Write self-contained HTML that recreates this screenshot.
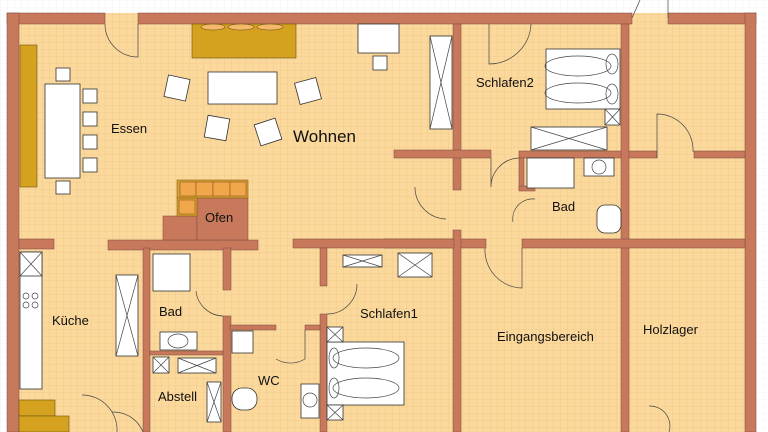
<!DOCTYPE html>
<html><head><meta charset="utf-8"><style>
html,body{margin:0;padding:0;background:#fff}
svg{display:block}
text{font-family:"Liberation Sans",sans-serif;fill:#111}
</style></head><body>
<svg width="768" height="432" viewBox="0 0 768 432" xmlns="http://www.w3.org/2000/svg">
<defs>
<pattern id="g" width="7" height="7" patternUnits="userSpaceOnUse">
<path d="M7 0H0V7" fill="none" stroke="#e9c27f" stroke-width="0.6"/>
</pattern>
<pattern id="gw" width="7" height="7" patternUnits="userSpaceOnUse">
<path d="M7 0H0V7" fill="none" stroke="#e6ebef" stroke-width="0.6"/>
</pattern>
</defs>
<rect width="768" height="432" fill="#fff"/>
<rect width="768" height="432" fill="url(#gw)"/>
<rect x="7" y="13" width="749" height="419" fill="#fbd89b"/>
<rect x="7" y="13" width="749" height="419" fill="url(#g)"/>
<g fill="#c8795c" stroke="#7a4a3a" stroke-width="0.5">
<!-- outer walls -->
<rect x="7" y="13" width="98" height="11"/>
<rect x="138" y="13" width="494" height="11"/>
<rect x="668" y="13" width="88" height="11"/>
<rect x="7" y="13" width="12" height="419"/>
<rect x="745" y="13" width="11" height="419"/>
<!-- right interior -->
<rect x="453" y="24" width="8" height="166"/>
<rect x="394" y="150" width="97" height="8"/>
<rect x="519" y="151" width="138" height="7"/>
<rect x="694" y="151" width="51" height="7"/>
<rect x="621" y="24" width="8" height="408"/>
<rect x="384" y="239" width="102" height="9"/>
<rect x="522" y="239" width="223" height="9"/>
<rect x="453" y="230" width="8" height="202"/>
<rect x="519" y="158" width="5" height="32"/>
<rect x="519" y="186" width="16" height="5"/>
<!-- left interior -->
<rect x="19" y="239" width="35" height="10"/>
<rect x="108" y="240" width="150" height="10"/>
<rect x="293" y="239" width="161" height="9"/>
<rect x="143" y="248" width="7" height="184"/>
<rect x="223" y="248" width="8" height="42"/>
<rect x="223" y="316" width="8" height="116"/>
<rect x="320" y="248" width="7" height="38"/>
<rect x="320" y="314" width="7" height="118"/>
<rect x="230" y="325" width="46" height="5"/>
<rect x="305" y="325" width="15" height="5"/>
<rect x="150" y="351" width="73" height="4"/>
<rect x="163" y="216" width="34" height="24"/>
<rect x="197" y="198" width="51" height="42"/>
</g>
<!-- ofen tiles -->
<g fill="#f0a64a" stroke="#8a5a20" stroke-width="0.6">
<rect x="177" y="180" width="71" height="18" fill="#d8a32c"/>
<rect x="180" y="182" width="16" height="14"/><rect x="196" y="182" width="17" height="14"/><rect x="213" y="182" width="17" height="14"/><rect x="230" y="182" width="16" height="14"/>
<rect x="177" y="198" width="20" height="18" fill="#d8a32c"/>
<rect x="179" y="200" width="16" height="14"/>
</g>
<!-- mustard furniture -->
<g fill="#d4a21e" stroke="#6a5010" stroke-width="0.6">
<rect x="192" y="24" width="104" height="34"/>
<rect x="20" y="45" width="17" height="142"/>
<rect x="19" y="400" width="36" height="16"/>
<rect x="19" y="416" width="50" height="16"/>
</g>
<g fill="#f4b868" stroke="#6a5010" stroke-width="0.6">
<ellipse cx="213" cy="27" rx="12" ry="3"/><ellipse cx="241" cy="27" rx="13" ry="3"/><ellipse cx="270" cy="27" rx="13" ry="3"/>
</g>
<!-- white furniture -->
<g fill="#fff" stroke="#333" stroke-width="0.8">
<rect x="45" y="84" width="35" height="94"/>
<rect x="56" y="68" width="14" height="13"/><rect x="56" y="181" width="14" height="13"/>
<rect x="83" y="89" width="14" height="14"/><rect x="83" y="112" width="14" height="14"/><rect x="83" y="135" width="14" height="14"/><rect x="83" y="158" width="14" height="14"/>
<rect x="208" y="72" width="69" height="32"/>
<rect x="166" y="77" width="22" height="22" transform="rotate(12 177 88)"/>
<rect x="297" y="80" width="22" height="22" transform="rotate(-15 308 91)"/>
<rect x="206" y="117" width="22" height="22" transform="rotate(10 217 128)"/>
<rect x="257" y="121" width="22" height="22" transform="rotate(-18 268 132)"/>
<rect x="358" y="24" width="41" height="29"/><rect x="373" y="56" width="14" height="14"/>
<rect x="430" y="36" width="22" height="93"/>
<rect x="546" y="49" width="74" height="60"/>
<rect x="605" y="109" width="15" height="16"/>
<rect x="531" y="127" width="76" height="23"/>
<rect x="527" y="158" width="47" height="30"/>
<rect x="584" y="158" width="30" height="18"/>
<rect x="597" y="205" width="24" height="28" rx="8"/>
<rect x="20" y="252" width="22" height="137"/>
<rect x="20" y="252" width="22" height="24"/>
<rect x="116" y="275" width="22" height="81"/>
<rect x="153" y="254" width="37" height="37"/>
<rect x="160" y="332" width="37" height="18"/>
<rect x="153" y="357" width="16" height="16"/>
<rect x="178" y="358" width="38" height="15"/>
<rect x="207" y="382" width="14" height="40"/>
<rect x="232" y="331" width="21" height="22"/>
<rect x="232" y="388" width="25" height="22" rx="10"/>
<rect x="301" y="384" width="18" height="34"/>
<rect x="327" y="342" width="77" height="63"/>
<rect x="327" y="327" width="16" height="15"/>
<rect x="327" y="405" width="16" height="15"/>
<rect x="343" y="255" width="39" height="12"/>
<rect x="398" y="253" width="34" height="24"/>
</g>
<g fill="none" stroke="#444" stroke-width="0.7">
<path d="M430 36L452 129M452 36L430 129M531 127L607 150M607 127L531 150M605 109L620 125M620 109L605 125M116 275L138 356M138 275L116 356M20 252L42 276M42 252L20 276M153 357L169 373M169 357L153 373M178 358L216 373M216 358L178 373M207 382L221 422M221 382L207 422M327 327L343 342M343 327L327 342M327 405L343 420M343 405L327 420M343 255L382 267M382 255L343 267M398 253L432 277M432 253L398 277"/>
<ellipse cx="578" cy="66" rx="33" ry="10"/><ellipse cx="578" cy="93" rx="33" ry="10"/>
<ellipse cx="612" cy="64" rx="6" ry="10"/><ellipse cx="612" cy="94" rx="6" ry="10"/>
<ellipse cx="366" cy="358" rx="33" ry="10"/><ellipse cx="366" cy="388" rx="33" ry="10"/>
<ellipse cx="334" cy="358" rx="5" ry="10"/><ellipse cx="334" cy="388" rx="5" ry="10"/>
<circle cx="599" cy="167" r="7"/><ellipse cx="178" cy="341" rx="10" ry="7"/><circle cx="310" cy="400" r="7"/>
<circle cx="26" cy="296" r="3"/><circle cx="35" cy="296" r="3"/><circle cx="26" cy="305" r="3"/><circle cx="35" cy="305" r="3"/>
<!-- door arcs -->
<path d="M138 24V57A33 33 0 0 1 105 24"/>
<path d="M489 24V64A42 42 0 0 0 531 24"/>
<path d="M657 158V114A36 36 0 0 1 693 152"/>
<path d="M491 158V187A29 29 0 0 1 519 158"/>
<path d="M415 187A32 32 0 0 0 446 219"/>
<path d="M535 199A20 20 0 0 0 513 222"/>
<path d="M522 248V288A38 38 0 0 1 485 248"/>
<path d="M196 291A28 28 0 0 0 223 316"/>
<path d="M357 284A30 30 0 0 1 327 314"/>
<path d="M305 330V359A28 28 0 0 1 276 359"/>
<path d="M112 412A32 32 0 0 1 143 432"/>
<path d="M82 395A35 35 0 0 1 117 432"/>
<path d="M649 406A20 20 0 0 1 669 432"/>
<path d="M632 18L640 0M668 18V0"/>
</g>
<text x="111" y="133" font-size="13">Essen</text>
<text x="293" y="142" font-size="17">Wohnen</text>
<text x="476" y="87" font-size="13">Schlafen2</text>
<text x="552" y="211" font-size="13">Bad</text>
<text x="205" y="222" font-size="13">Ofen</text>
<text x="52" y="325" font-size="13">Küche</text>
<text x="159" y="316" font-size="13">Bad</text>
<text x="360" y="318" font-size="13">Schlafen1</text>
<text x="497" y="341" font-size="13">Eingangsbereich</text>
<text x="643" y="334" font-size="13">Holzlager</text>
<text x="158" y="401" font-size="13">Abstell</text>
<text x="258" y="385" font-size="13">WC</text>
</svg>
</body></html>
